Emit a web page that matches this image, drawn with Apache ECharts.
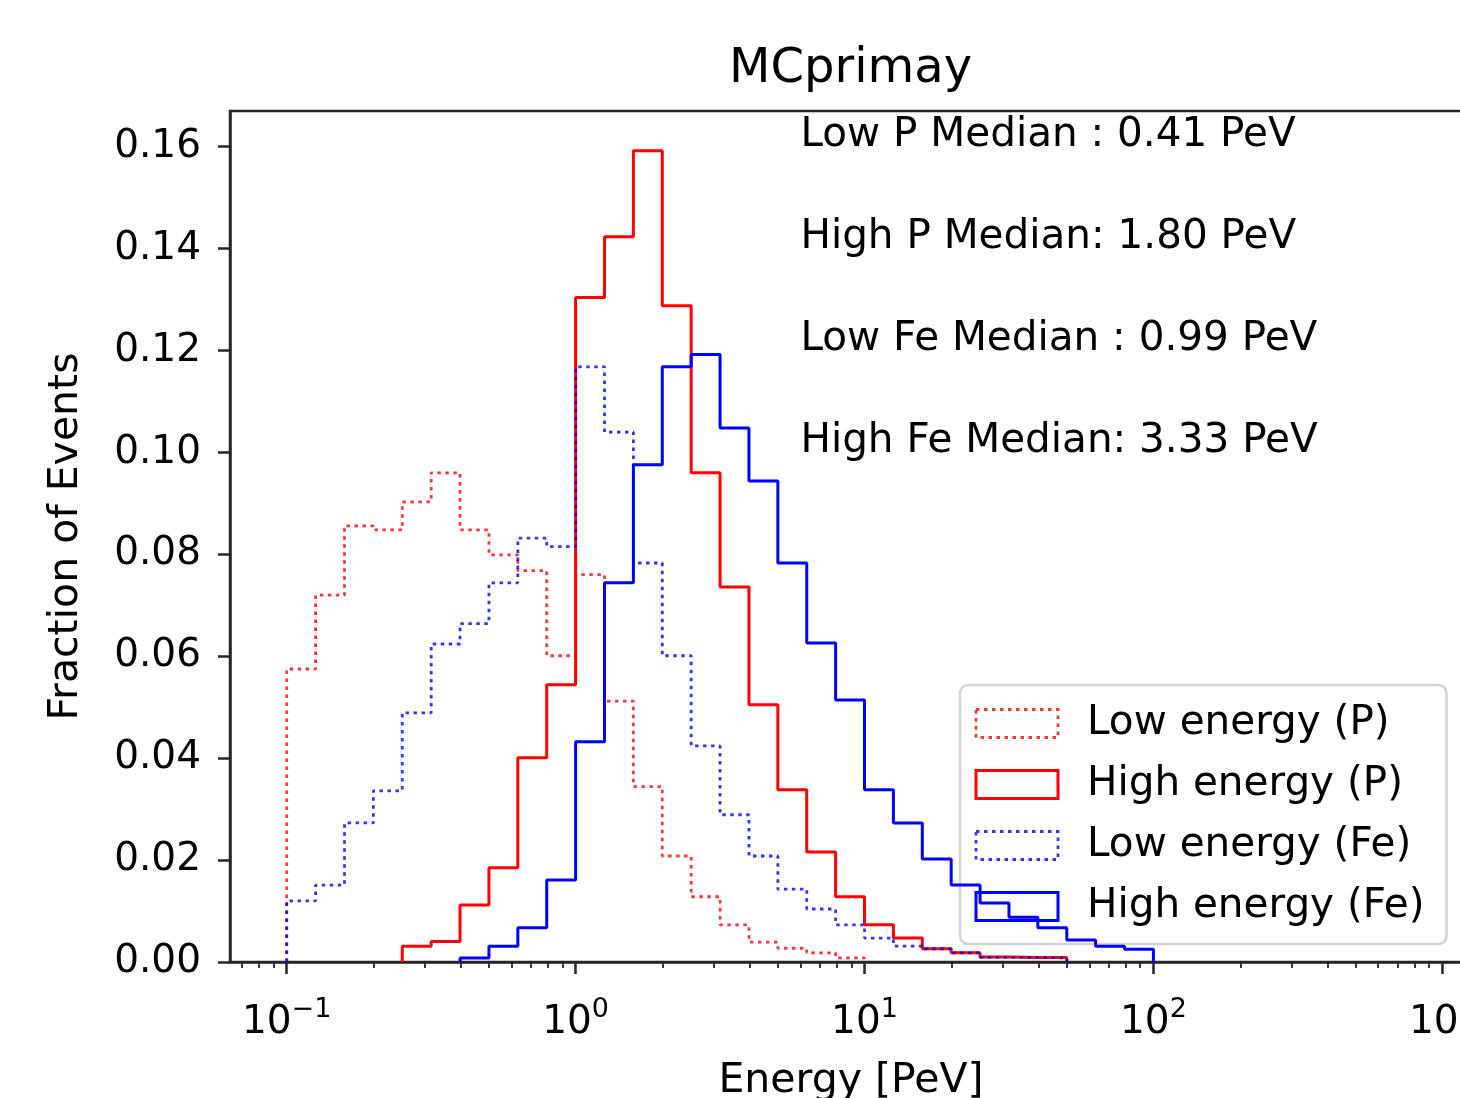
<!DOCTYPE html>
<html><head><meta charset="utf-8">
<script src="https://cdn.jsdelivr.net/npm/echarts@6/dist/echarts.min.js"></script>
<style>html,body{margin:0;padding:0;background:#fff}#c{width:1460px;height:1098px}</style>
</head><body><div id="c"></div>
<script>
// ---- data (histogram bins: 10 per decade, log-spaced) ----
const binStep = 0.1; // decades per bin
const lowPStartExp = -1.0;
const lowPValues = [0.0575, 0.0720, 0.0856, 0.0848, 0.0903, 0.0960, 0.0848, 0.0799, 0.0768, 0.0601,
                    0.0760, 0.0512, 0.0344, 0.0208, 0.0128, 0.0073, 0.0039, 0.0027, 0.0018, 0.0008];
const highPStartExp = -0.6;
const highPValues = [0.0031, 0.0040, 0.0112, 0.0185, 0.0401, 0.0544,
                     0.1304, 0.1423, 0.1592, 0.1288, 0.0960, 0.0736, 0.0505, 0.0338, 0.0216, 0.0128,
                     0.0073, 0.0047, 0.0026, 0.0018, 0.0010, 0.0009, 0.0009];
const lowFeStartExp = -1.0;
const lowFeValues = [0.0120, 0.0151, 0.0273, 0.0336, 0.0489, 0.0624, 0.0664, 0.0744, 0.0832, 0.0815,
                     0.1168, 0.1040, 0.0783, 0.0601, 0.0424, 0.0289, 0.0208, 0.0143, 0.0104, 0.0073,
                     0.0047, 0.0031, 0.0026, 0.0018, 0.0009, 0.0009, 0.0008];
const highFeStartExp = -0.4;
const highFeValues = [0.0008, 0.0031, 0.0067, 0.0161,
                      0.0432, 0.0744, 0.0976, 0.1168, 0.1192, 0.1048, 0.0944, 0.0783, 0.0626, 0.0514,
                      0.0338, 0.0273, 0.0202, 0.0151, 0.0116, 0.0088, 0.0067, 0.0043, 0.0031, 0.0025];
const seriesNames = ['Low energy (P)', 'High energy (P)', 'Low energy (Fe)', 'High energy (Fe)'];
const yTickValues = [0, 0.02, 0.04, 0.06, 0.08, 0.10, 0.12, 0.14, 0.16];
const xTickValues = [0.1, 1, 10, 100, 1000];
const xTickExponents = ['\u22121', '0', '1', '2', '3'];
const medianTexts = ['Low P Median : 0.41 PeV', 'High P Median: 1.80 PeV', 'Low Fe Median : 0.99 PeV', 'High Fe Median: 3.33 PeV'];
const medianTextY = [0.16, 0.14, 0.12, 0.10];
const medianTextX = 6;
const titleText = 'MCprimay';
const xName = 'Energy [PeV]';
const yName = 'Fraction of Events';

// ---- view ----
const FONT = 'DejaVu Sans';
const AX = '#262626';
const RED = '#ff0000', BLUE = '#0000ff';
const xMin = Math.pow(10, -1.1963), xMax = Math.pow(10, 3.1027);
const yMax = 0.1670;
const DOT = [3.5, 4.5];

function stepPoints(startExp, values) {
  const edge = i => Math.pow(10, startExp + i * binStep);
  const pts = [[edge(0), 0]];
  values.forEach((v, i) => { pts.push([edge(i), v]); pts.push([edge(i + 1), v]); });
  pts.push([edge(values.length), 0]);
  return pts;
}
const minorTickValues = [];
for (let e = -2; e <= 3; e++) for (let m = 2; m <= 9; m++) {
  const v = m * Math.pow(10, e);
  if (v > xMin && v < xMax) minorTickValues.push(v);
}

const specs = [
  {name: seriesNames[0], start: lowPStartExp, vals: lowPValues, color: RED, dotted: true},
  {name: seriesNames[1], start: highPStartExp, vals: highPValues, color: RED, dotted: false},
  {name: seriesNames[2], start: lowFeStartExp, vals: lowFeValues, color: BLUE, dotted: true},
  {name: seriesNames[3], start: highFeStartExp, vals: highFeValues, color: BLUE, dotted: false}
];

const series = specs.map((s, i) => ({
  name: s.name, type: 'line', data: stepPoints(s.start, s.vals),
  showSymbol: false, symbol: 'none', silent: true, z: 2 + i,
  itemStyle: {color: s.color},
  lineStyle: {color: s.color, width: s.dotted ? 2.8 : 3, type: s.dotted ? DOT : 'solid', opacity: s.dotted ? 0.8 : 1},
  emphasis: {disabled: true}
}));
series.push({
  type: 'scatter', silent: true, symbolSize: 0, z: 10,
  itemStyle: {color: '#000', opacity: 1},
  emphasis: {disabled: true},
  data: medianTextY.map((y, i) => ({value: [medianTextX, y], label: {formatter: medianTexts[i]}})),
  label: {show: true, position: 'right', distance: 0, offset: [0, -11], fontSize: 40.5, color: '#000',
    opacity: 1, textBorderWidth: 0, fontFamily: FONT}
});

const option = {
  animation: false,
  backgroundColor: '#fff',
  textStyle: {fontFamily: FONT},
  title: {text: titleText, left: 729, top: 46, padding: 0,
    textStyle: {fontFamily: FONT, fontSize: 48, fontWeight: 'normal', color: '#000'}},
  grid: {left: 230, top: 111, right: -12, bottom: 136, show: true, borderColor: AX, borderWidth: 2.5,
    backgroundColor: 'transparent', outerBoundsMode: 'none', containLabel: false},
  legend: {
    orient: 'vertical', left: 960, top: 685, padding: [18, 22, 17, 14.5], itemGap: 20,
    itemWidth: 82, itemHeight: 28, selectedMode: false,
    backgroundColor: 'rgba(255,255,255,0.8)', borderColor: '#d3d3d3', borderWidth: 2.5, borderRadius: 8,
    textStyle: {fontSize: 40.5, color: '#000', fontFamily: FONT, lineHeight: 39, padding: [0, 0, 0, 24]},
    data: specs.map(s => ({name: s.name, icon: 'rect',
      itemStyle: {color: 'rgba(0,0,0,0)', borderColor: s.color, borderWidth: s.dotted ? 2.8 : 3,
        borderType: s.dotted ? DOT : 'solid', opacity: s.dotted ? 0.8 : 1}}))
  },
  xAxis: [{
    type: 'log', logBase: 10, min: xMin, max: xMax,
    name: xName, nameLocation: 'middle', nameGap: 99,
    nameTextStyle: {fontSize: 41, color: '#000', fontFamily: FONT},
    axisLine: {show: true, onZero: false, lineStyle: {color: AX, width: 2.5}},
    axisTick: {show: true, length: 12, customValues: xTickValues, lineStyle: {color: AX, width: 2.5}},
    axisLabel: {customValues: xTickValues, margin: 34, color: '#000',
      formatter: v => {
        const k = xTickValues.findIndex(t => Math.abs(Math.log10(t) - Math.log10(v)) < 1e-6);
        return '{b|10}{s|' + xTickExponents[k] + '}';
      },
      rich: {b: {fontSize: 39, lineHeight: 46, verticalAlign: 'bottom', color: '#000', fontFamily: FONT},
             s: {fontSize: 27, lineHeight: 27, verticalAlign: 'top', color: '#000', fontFamily: FONT}}},
    splitLine: {show: false}, minorTick: {show: false}, minorSplitLine: {show: false}
  }, {
    type: 'log', logBase: 10, min: xMin, max: xMax, position: 'bottom',
    axisLine: {show: false},
    axisTick: {show: true, length: 6, customValues: minorTickValues, lineStyle: {color: AX, width: 1.8}},
    axisLabel: {show: false}, splitLine: {show: false}
  }],
  yAxis: {
    type: 'value', min: 0, max: yMax,
    name: yName, nameLocation: 'middle', nameGap: 143,
    nameTextStyle: {fontSize: 41, color: '#000', fontFamily: FONT},
    axisLine: {show: true, onZero: false, lineStyle: {color: AX, width: 2.5}},
    axisTick: {show: true, length: 12, customValues: yTickValues, lineStyle: {color: AX, width: 2.5}},
    axisLabel: {customValues: yTickValues, margin: 29, fontSize: 39, color: '#000', fontFamily: FONT,
      formatter: v => v.toFixed(2)},
    splitLine: {show: false}
  },
  series: series
};
const chart = echarts.init(document.getElementById('c'), null, {renderer: 'canvas'});
chart.setOption(option);
</script></body></html>
